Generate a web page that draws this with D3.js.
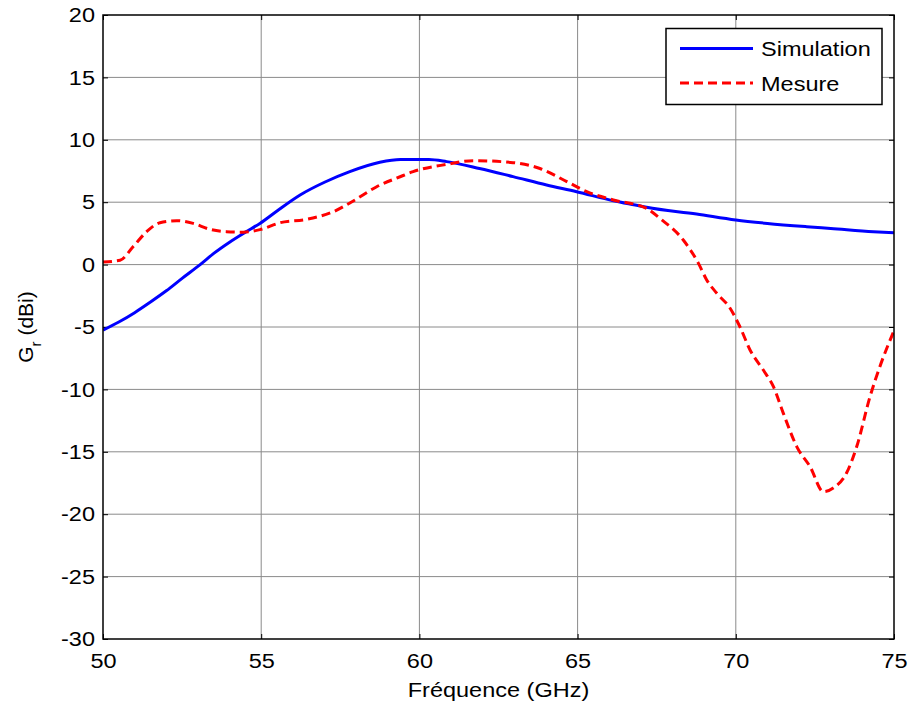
<!DOCTYPE html>
<html>
<head>
<meta charset="utf-8">
<script src="https://cdn.jsdelivr.net/npm/d3@7/dist/d3.min.js"></script>
<style>
  html, body { margin: 0; padding: 0; background: #fff; }
  svg { display: block; font-family: "Liberation Sans", Arial, sans-serif; }
</style>
</head>
<body>
<svg id="chart" width="909" height="704"></svg>
<script>
// ---- data ----
const simFreq = [50, 50.5, 51, 51.5, 52, 52.5, 53.07, 53.5, 54, 54.5, 54.96, 55.5, 56.23, 57, 57.8, 58.75, 59.4, 60.3, 60.86, 61.9, 62.96, 64.02, 64.97, 66.13, 66.97, 67.18, 68.76, 70, 71, 72.24, 73, 74.35, 75];
const simGain = [-5.25, -4.6, -3.85, -3.0, -2.1, -1.1, 0, 0.9, 1.8, 2.6, 3.3, 4.3, 5.58, 6.6, 7.45, 8.2, 8.42, 8.42, 8.25, 7.7, 7.05, 6.38, 5.84, 5.12, 4.7, 4.59, 4.05, 3.57, 3.3, 3.04, 2.9, 2.64, 2.55];

const mesFreq = [50, 50.54, 50.95, 51.38, 51.8, 52.33, 52.85, 53.38, 53.9, 54.43, 54.96, 55.6, 56.44, 57.28, 57.91, 58.65, 59.39, 59.8, 60.86, 61.7, 62.96, 63.81, 64.66, 65.29, 66.13, 67.18, 67.6, 68.34, 68.82, 69.08, 69.4, 69.82, 70.13, 70.45, 70.87, 71.19, 71.5, 71.93, 72.35, 72.77, 73.08, 73.5, 73.82, 74.24, 74.55, 75];
const mesGain = [0.2, 0.35, 1.43, 2.64, 3.36, 3.52, 3.3, 2.83, 2.64, 2.6, 2.8, 3.36, 3.63, 4.24, 5.1, 6.24, 7.04, 7.45, 8.03, 8.33, 8.17, 7.7, 6.65, 5.84, 5.18, 4.51, 3.71, 1.97, 0.1, -1.23, -2.3, -3.5, -4.98, -6.84, -8.45, -9.78, -11.9, -14.6, -16.2, -18.2, -17.9, -16.7, -14.6, -10.6, -8.2, -5.3];

const xTicks = [50, 55, 60, 65, 70, 75];
const yTicks = [-30, -25, -20, -15, -10, -5, 0, 5, 10, 15, 20];
const seriesNames = ["Simulation", "Mesure"];
const xLabel = "Fréquence (GHz)";

// ---- layout ----
const pL = 103, pR = 894, pT = 15, pB = 639;
const sx = 1.12; // horizontal text stretch seen in reference
const svg = d3.select("#chart");
const x = d3.scaleLinear().domain([50, 75]).range([pL, pR]);
const y = d3.scaleLinear().domain([-30, 20]).range([pB, pT]);

// grid
const grid = svg.append("g");
grid.selectAll("line.vx").data(xTicks.slice(1, -1)).join("line")
  .attr("x1", d => x(d)).attr("x2", d => x(d)).attr("y1", pT).attr("y2", pB)
  .attr("stroke", "#8a8a8a").attr("stroke-width", 1);
grid.selectAll("line.hy").data(yTicks.slice(1, -1)).join("line")
  .attr("x1", pL).attr("x2", pR).attr("y1", d => y(d)).attr("y2", d => y(d))
  .attr("stroke", "#8a8a8a").attr("stroke-width", 1);

// axes with inward ticks
const tickLen = 5;
const fmt = d => String(d);
const axB = svg.append("g").attr("transform", `translate(0,${pB})`)
  .call(d3.axisBottom(x).tickValues(xTicks).tickFormat(fmt).tickSizeInner(-tickLen).tickSizeOuter(0).tickPadding(14));
const axL = svg.append("g").attr("transform", `translate(${pL},0)`)
  .call(d3.axisLeft(y).tickValues(yTicks).tickFormat(fmt).tickSizeInner(-tickLen).tickSizeOuter(0).tickPadding(8));
const axT = svg.append("g").attr("transform", `translate(0,${pT})`)
  .call(d3.axisTop(x).tickValues(xTicks).tickSizeInner(-tickLen).tickSizeOuter(0).tickFormat(""));
const axR = svg.append("g").attr("transform", `translate(${pR},0)`)
  .call(d3.axisRight(y).tickValues(yTicks).tickSizeInner(-tickLen).tickSizeOuter(0).tickFormat(""));
[axB, axL, axT, axR].forEach(a => {
  a.select(".domain").remove();
  a.selectAll("line").attr("stroke", "#000");
  a.selectAll("text").attr("font-size", 21).attr("fill", "#000")
    .attr("font-family", "'Liberation Sans', Arial, sans-serif")
    .attr("transform", `scale(${sx},1)`);
});
axL.selectAll("text").attr("x", -8 / sx);

// curves
const line = d3.line().x(d => x(d[0])).y(d => y(d[1])).curve(d3.curveMonotoneX);
svg.append("clipPath").attr("id", "clip").append("rect")
  .attr("x", pL).attr("y", pT).attr("width", pR - pL).attr("height", pB - pT);
svg.append("path").datum(simFreq.map((f, i) => [f, simGain[i]]))
  .attr("d", line).attr("fill", "none").attr("stroke", "#0000ff").attr("stroke-width", 3)
  .attr("clip-path", "url(#clip)");
svg.append("path").datum(mesFreq.map((f, i) => [f, mesGain[i]]))
  .attr("d", line).attr("fill", "none").attr("stroke", "#ff0000").attr("stroke-width", 3)
  .attr("stroke-dasharray", "9,5").attr("clip-path", "url(#clip)");

// frame
svg.append("rect").attr("x", pL).attr("y", pT).attr("width", pR - pL).attr("height", pB - pT)
  .attr("fill", "none").attr("stroke", "#000").attr("stroke-width", 1.5);

// legend
const lg = svg.append("g");
lg.append("rect").attr("x", 666).attr("y", 28.5).attr("width", 216).attr("height", 76)
  .attr("fill", "#fff").attr("stroke", "#000").attr("stroke-width", 1.5);
const legRows = [{y: 48.5, color: "#0000ff", dash: null}, {y: 83, color: "#ff0000", dash: "9,5"}];
legRows.forEach((r, i) => {
  lg.append("line").attr("x1", 680).attr("x2", 753).attr("y1", r.y).attr("y2", r.y)
    .attr("stroke", r.color).attr("stroke-width", 3).attr("stroke-dasharray", r.dash);
  lg.append("text").attr("transform", `translate(761,${r.y + 7.5}) scale(${sx},1)`)
    .attr("font-size", 21).text(seriesNames[i]);
});

// axis labels
svg.append("text").attr("transform", `translate(${(pL + pR) / 2},697) scale(${sx},1)`)
  .attr("text-anchor", "middle").attr("font-size", 21).text(xLabel);
const yl = svg.append("text").attr("transform", `translate(33,${(pT + pB) / 2}) rotate(-90)`)
  .attr("text-anchor", "middle").attr("font-size", 21);
yl.append("tspan").text("G");
yl.append("tspan").attr("font-size", 15).attr("dy", 8).text("r");
yl.append("tspan").attr("dy", -8).text(" (dBi)");
</script>
</body>
</html>
